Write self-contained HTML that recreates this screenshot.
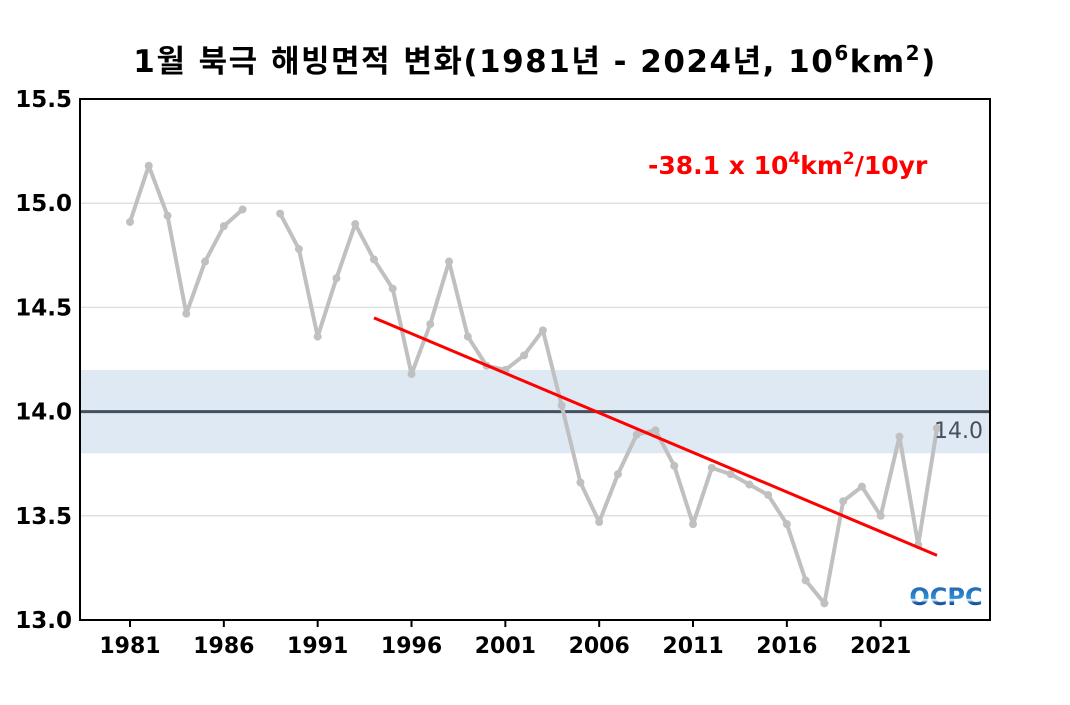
<!DOCTYPE html>
<html><head><meta charset="utf-8"><style>
body{margin:0;background:#fff;}
svg text{font-family:"DejaVu Sans","Noto Sans CJK KR",sans-serif;}
</style></head><body>
<svg id="chart" width="1070" height="700" viewBox="0 0 1070 700">
<defs><linearGradient id="lg" x1="0" y1="0" x2="0" y2="1"><stop offset="0" stop-color="#1a5aa8"/><stop offset="0.55" stop-color="#2e8fd6"/><stop offset="0.6" stop-color="#fff"/><stop offset="0.7" stop-color="#1a5aa8"/><stop offset="1" stop-color="#0d3f86"/></linearGradient></defs>
<text x="535" y="72" text-anchor="middle" font-size="31" letter-spacing="1.5" font-weight="bold" fill="#000">1월 북극 해빙면적 변화(1981년 - 2024년, 10<tspan dy="-12" font-size="20">6</tspan><tspan dy="12">km</tspan><tspan dy="-12" font-size="20">2</tspan><tspan dy="12">)</tspan></text>
<g id="grid"></g>
<rect id="band" fill="#dfe9f3"/>
<line id="base" stroke="#44505e" stroke-width="3"/>
<g id="series"></g>
<line id="trend" stroke="#ff0000" stroke-width="3"/>
<text x="934" y="438" font-size="22" fill="#44505e">14.0</text>
<text x="648" y="174" font-size="25" font-weight="bold" fill="#ff0000">-38.1 x 10<tspan dy="-10" font-size="17">4</tspan><tspan dy="10">km</tspan><tspan dy="-10" font-size="17">2</tspan><tspan dy="10">/10yr</tspan></text>
<text x="946" y="605" font-size="24" font-weight="bold" fill="url(#lg)" text-anchor="middle">OCPC</text>
<rect x="80" y="99" width="910" height="521" fill="none" stroke="#000" stroke-width="2"/>
<g id="axes"></g>
</svg>
<script>
const years=[];for(let y=1981;y<=2024;y++)years.push(y);
const values=[14.91,15.18,14.94,14.47,14.72,14.89,14.97,null,14.95,14.78,14.36,14.64,14.90,14.73,14.59,14.18,14.42,14.72,14.36,14.22,14.20,14.27,14.39,14.03,13.66,13.47,13.70,13.89,13.91,13.74,13.46,13.73,13.70,13.65,13.60,13.46,13.19,13.08,13.57,13.64,13.50,13.88,13.36,13.92];
const yTicks=[13.0,13.5,14.0,14.5,15.0,15.5];
const xTickYears=[1981,1986,1991,1996,2001,2006,2011,2016,2021];
const trendStart=[1994,14.45],trendEnd=[2024,13.31];
const band=[13.8,14.2],baseline=14.0;
const NS='http://www.w3.org/2000/svg';
const X=y=>130+(y-1981)*(937-130)/43;
const Y=v=>620-(v-13.0)*521/2.5;
function mk(t,a,p){const e=document.createElementNS(NS,t);for(const k in a)e.setAttribute(k,a[k]);p.appendChild(e);return e;}
const g=document.getElementById('grid'),ax=document.getElementById('axes'),s=document.getElementById('series');
yTicks.forEach(v=>{
 if(v>13&&v<15.5){const l=mk('line',{x1:80,x2:990,y1:Y(v),y2:Y(v),stroke:'#e0e0e0','stroke-width':1.5},g);
 
 }
 const t=mk('text',{x:72,y:Y(v)+8,'text-anchor':'end','font-size':23,'font-weight':'bold',fill:'#000'},ax);t.textContent=v.toFixed(1);
 
 
});
xTickYears.forEach(y=>{
 const l=mk('line',{x1:X(y),x2:X(y),y1:620,y2:627,stroke:'#000','stroke-width':2},ax);
 
 
 const t=mk('text',{x:X(y),y:653,'text-anchor':'middle','font-size':22,'font-weight':'bold',fill:'#000'},ax);t.textContent=y;
 
 
});
const b=document.getElementById('band');b.setAttribute('x',81);b.setAttribute('width',908);b.setAttribute('y',Y(band[1]));b.setAttribute('height',Y(band[0])-Y(band[1]));
const bl=document.getElementById('base');bl.setAttribute('x1',81);bl.setAttribute('x2',989);bl.setAttribute('y1',Y(baseline));bl.setAttribute('y2',Y(baseline));
let d='',pen=false;
values.forEach((v,i)=>{if(v==null){pen=false;return;}d+=(pen?'L':'M')+X(years[i])+' '+Y(v);pen=true;});
const p=mk('path',{d:d,fill:'none',stroke:'#c0c0c0','stroke-width':4,'stroke-linejoin':'round'},s);


values.forEach((v,i)=>{if(v==null)return;const c=mk('circle',{cx:X(years[i]),cy:Y(v),r:4,fill:'#c0c0c0'},s);
 
 });
const tr=document.getElementById('trend');tr.setAttribute('x1',X(trendStart[0]));tr.setAttribute('y1',Y(trendStart[1]));tr.setAttribute('x2',X(trendEnd[0]));tr.setAttribute('y2',Y(trendEnd[1]));
</script>
</body></html>
